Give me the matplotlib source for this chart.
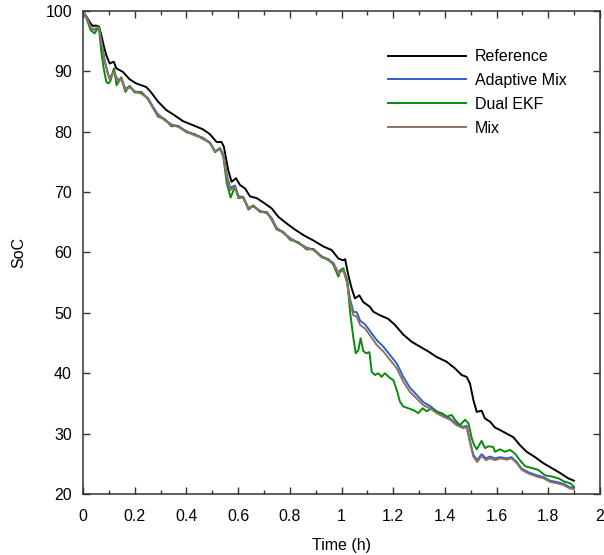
import matplotlib
matplotlib.use("Agg")
import matplotlib.pyplot as plt
from matplotlib.ticker import MultipleLocator, FuncFormatter

plt.rcParams['font.family'] = ['Liberation Sans', 'DejaVu Sans']

# ---- data ----
ref_t = [0.0, 0.01, 0.02, 0.03, 0.039, 0.050, 0.062, 0.071, 0.080, 0.090, 0.103, 0.119, 0.129,
         0.155, 0.180, 0.206, 0.245, 0.264, 0.290, 0.322, 0.355, 0.387, 0.425, 0.464, 0.491,
         0.517, 0.536, 0.545, 0.562, 0.575, 0.592, 0.607, 0.627, 0.646, 0.672, 0.704, 0.730,
         0.756, 0.788, 0.820, 0.852, 0.891, 0.930, 0.962, 0.988, 1.007, 1.014, 1.026, 1.039,
         1.052, 1.069, 1.084, 1.110, 1.123, 1.149, 1.181, 1.207, 1.239, 1.272, 1.304, 1.336,
         1.368, 1.407, 1.439, 1.465, 1.484, 1.497, 1.510, 1.523, 1.542, 1.555, 1.574, 1.594,
         1.613, 1.639, 1.665, 1.690, 1.716, 1.749, 1.781, 1.813, 1.845, 1.877, 1.899]
ref_soc = [100.0, 99.3, 98.6, 97.9, 97.5, 97.6, 97.4, 96.0, 94.3, 92.7, 91.3, 91.6, 90.5,
           89.9, 88.7, 88.0, 87.4, 86.5, 85.0, 83.6, 82.7, 81.75, 81.1, 80.4, 79.6,
           78.3, 78.3, 77.5, 73.6, 71.7, 72.3, 71.2, 70.6, 69.3, 69.0, 68.1, 67.3,
           65.9, 64.8, 63.8, 62.9, 62.0, 61.0, 60.4, 59.0, 58.7, 58.9, 56.3, 54.1,
           52.4, 52.9, 51.8, 51.0, 50.2, 49.6, 49.0, 48.0, 46.4, 45.2, 44.4, 43.6,
           42.7, 41.9, 40.8, 39.7, 39.4, 38.3, 35.6, 33.6, 33.8, 32.5, 32.0, 31.0,
           30.6, 30.0, 29.4, 28.1, 27.0, 26.1, 25.1, 24.3, 23.5, 22.6, 22.2]

mix_t = [0.0, 0.015, 0.032, 0.045, 0.055, 0.062, 0.071, 0.084, 0.097, 0.103, 0.120, 0.135,
         0.148, 0.164, 0.180, 0.200, 0.226, 0.251, 0.271, 0.290, 0.316, 0.342, 0.368, 0.400,
         0.432, 0.464, 0.491, 0.511, 0.530, 0.543, 0.556, 0.569, 0.588, 0.601, 0.620, 0.640,
         0.659, 0.685, 0.711, 0.730, 0.749, 0.775, 0.801, 0.833, 0.865, 0.891, 0.923, 0.949,
         0.968, 0.988, 1.007, 1.020, 1.033, 1.046, 1.059, 1.072, 1.091, 1.110, 1.136, 1.162,
         1.188, 1.214, 1.239, 1.265, 1.291, 1.317, 1.342, 1.368, 1.394, 1.420, 1.445, 1.471,
         1.484, 1.497, 1.510, 1.525, 1.542, 1.559, 1.574, 1.594, 1.613, 1.639, 1.658, 1.678,
         1.697, 1.723, 1.755, 1.781, 1.807, 1.832, 1.858, 1.884, 1.899]
mix_soc = [100.0, 98.8, 97.1, 96.9, 97.3, 97.2, 94.9, 91.6, 89.4, 88.7, 89.9, 88.3,
           88.8, 86.9, 87.4, 86.6, 86.3, 85.5, 83.9, 82.7, 81.9, 81.1, 80.8, 80.0,
           79.4, 78.9, 78.1, 76.7, 77.1, 76.1, 72.5, 70.3, 70.9, 69.2, 69.0, 67.3,
           67.6, 66.8, 66.5, 65.6, 64.0, 63.2, 62.3, 61.5, 60.7, 60.4, 59.3, 58.7,
           58.2, 56.5, 57.1, 55.2, 51.8, 49.6, 49.4, 48.0, 47.4, 46.3, 44.7, 43.6,
           42.2, 40.8, 38.6, 36.9, 35.8, 34.7, 34.2, 33.4, 32.8, 32.3, 31.4, 30.9,
           31.1, 28.5, 26.2, 25.3, 26.3, 25.6, 25.9, 25.6, 25.9, 25.7, 25.9, 25.1,
           24.0, 23.4, 22.9, 22.6, 22.0, 21.8, 21.5, 20.9, 20.8]

amix_t = mix_t
amix_soc = [100.0, 98.8, 97.1, 96.9, 97.3, 97.2, 95.0, 91.8, 89.6, 88.9, 90.0, 88.5,
            88.9, 87.1, 87.5, 86.7, 86.4, 85.6, 84.1, 82.9, 82.0, 81.2, 80.9, 80.1,
            79.5, 79.0, 78.2, 76.8, 77.2, 76.3, 73.0, 70.7, 71.1, 69.4, 69.1, 67.4,
            67.7, 66.9, 66.6, 65.7, 64.1, 63.3, 62.4, 61.6, 60.8, 60.5, 59.4, 58.8,
            58.3, 56.6, 57.2, 55.5, 52.3, 50.2, 50.1, 48.7, 48.1, 47.0, 45.5, 44.4,
            43.0, 41.6, 39.4, 37.6, 36.4, 35.2, 34.6, 33.7, 33.1, 32.5, 31.6, 31.1,
            31.3, 28.8, 26.5, 25.6, 26.6, 25.9, 26.2, 25.9, 26.1, 25.9, 26.1, 25.3,
            24.2, 23.6, 23.1, 22.8, 22.2, 22.0, 21.7, 21.1, 21.0]

ekf_t = [0.0, 0.015, 0.030, 0.045, 0.055, 0.062, 0.070, 0.080, 0.090, 0.097, 0.105, 0.120,
         0.130, 0.148, 0.164, 0.180, 0.200, 0.226, 0.251, 0.271, 0.290, 0.316, 0.342, 0.368,
         0.400, 0.432, 0.464, 0.491, 0.511, 0.530, 0.543, 0.556, 0.571, 0.588, 0.601, 0.620,
         0.640, 0.659, 0.685, 0.711, 0.730, 0.749, 0.775, 0.801, 0.833, 0.865, 0.891, 0.923,
         0.949, 0.968, 0.988, 0.994, 1.007, 1.023, 1.033, 1.046, 1.055, 1.065, 1.074, 1.084,
         1.095, 1.108, 1.117, 1.130, 1.142, 1.155, 1.168, 1.188, 1.200, 1.214, 1.226, 1.239,
         1.258, 1.278, 1.297, 1.314, 1.329, 1.349, 1.368, 1.388, 1.407, 1.426, 1.439, 1.458,
         1.478, 1.491, 1.504, 1.513, 1.523, 1.542, 1.555, 1.568, 1.587, 1.594, 1.613, 1.632,
         1.652, 1.671, 1.690, 1.710, 1.736, 1.761, 1.787, 1.813, 1.839, 1.865, 1.884, 1.899]
ekf_soc = [100.0, 98.6, 96.8, 96.3, 97.0, 97.2, 93.5, 90.5, 88.3, 88.0, 88.3, 90.5,
           87.7, 89.0, 86.6, 87.6, 86.5, 86.6, 85.4, 84.0, 82.5, 82.1, 80.9, 81.0,
           79.9, 79.6, 78.8, 78.2, 76.6, 77.3, 75.8, 71.5, 69.1, 70.9, 69.0, 69.2,
           67.1, 67.8, 66.7, 66.7, 65.4, 63.8, 63.4, 62.1, 61.7, 60.5, 60.6, 59.2,
           58.9, 58.0, 56.0, 57.0, 57.4, 55.2, 50.2, 45.8, 43.3, 43.8, 45.8, 43.7,
           43.3, 43.5, 40.2, 39.7, 40.0, 39.4, 40.0, 39.2, 38.9, 37.2, 35.3, 34.5,
           34.2, 33.9, 33.4, 34.2, 33.7, 34.2, 33.6, 33.4, 32.8, 33.1, 32.3, 31.4,
           32.3, 31.7, 29.2, 28.1, 27.4, 28.8, 27.6, 27.9, 27.8, 27.0, 27.4, 27.0,
           27.3, 26.7, 25.6, 24.6, 24.3, 24.0, 23.1, 22.9, 22.6, 22.0, 21.8, 21.2]

labels = ['Reference', 'Adaptive Mix', 'Dual EKF', 'Mix']
colors = ['#000000', '#2f5fd0', '#0a8a0a', '#8c7262']

# ---- figure ----
fig = plt.figure(figsize=(6.04, 5.55), dpi=100)
ax = fig.add_axes([0.1374, 0.1099, 0.856, 0.8703])

lw = 1.4
ax.plot(ref_t, ref_soc, color=colors[0], lw=lw, label=labels[0])
ax.plot(amix_t, amix_soc, color=colors[1], lw=lw, label=labels[1])
ax.plot(ekf_t, ekf_soc, color=colors[2], lw=lw, label=labels[2])
ax.plot(mix_t, mix_soc, color=colors[3], lw=lw, label=labels[3])

ax.set_xlim(0, 2)
ax.set_ylim(20, 100)
ax.xaxis.set_major_locator(MultipleLocator(0.2))
ax.xaxis.set_minor_locator(MultipleLocator(0.1))
ax.yaxis.set_major_locator(MultipleLocator(10))
ax.xaxis.set_major_formatter(FuncFormatter(lambda v, p: '%g' % round(v, 6)))

fs = 11.5
for s in ax.spines.values():
    s.set_color('#333333')
    s.set_linewidth(1.1)
ax.tick_params(which='both', direction='in', top=True, right=True, color='#333333',
               labelsize=fs, width=1.0)
ax.tick_params(which='major', length=5)
ax.tick_params(which='minor', length=3)
ax.tick_params(axis='x', which='major', pad=11)
ax.tick_params(axis='y', which='major', pad=8)

ax.set_xlabel('Time (h)', fontsize=fs, labelpad=10)
ax.set_ylabel('SoC', fontsize=fs, labelpad=13.5)

leg = ax.legend(loc='upper left', bbox_to_anchor=(0.590, 0.921), frameon=False,
                fontsize=fs, handlelength=4.9, handletextpad=0.55, labelspacing=0.55,
                borderpad=0, borderaxespad=0)

fig.savefig('out.png', dpi=100)
